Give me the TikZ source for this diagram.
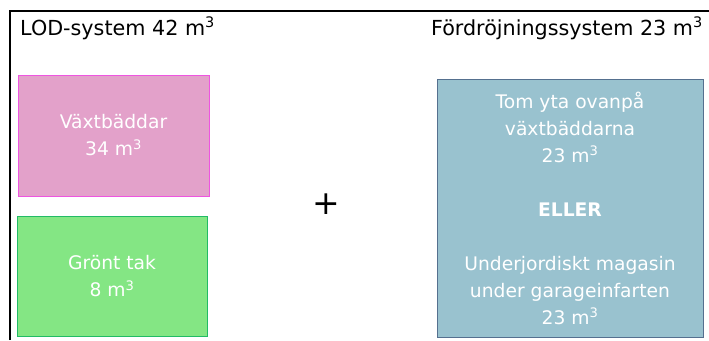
\documentclass[tikz,border=0pt]{standalone}
\usepackage{fontspec}
\setmainfont{DejaVu Sans}
\definecolor{bedfill}{HTML}{E3A1CA}
\definecolor{beddraw}{HTML}{EE55E0}
\definecolor{roofill}{HTML}{84E684}
\definecolor{roodraw}{HTML}{22BB66}
\definecolor{delfill}{HTML}{99C2CF}
\definecolor{deldraw}{HTML}{55708F}
\tikzset{
  sysbox/.style={draw, line width=1pt, align=center, text=white, inner sep=0pt,
    font=\fontsize{18.7}{27}\selectfont},
  title/.style={inner sep=0pt, font=\fontsize{20.7}{25}\selectfont}
}
\begin{document}
\begin{tikzpicture}[x=1pt, y=-1pt]
  \useasboundingbox (0,0) rectangle (709,340);
  % ram
  \draw[line width=2.5pt] (10,340) -- (10,11) -- (709,11);

  % rubriker
  \node[title, anchor=base west] (lodtitle) at (20,35) {LOD-system 42 m\textsuperscript{3}};
  \node[title, anchor=base east] (deltitle) at (703,35) {Fördröjningssystem 23 m\textsuperscript{3}};

  % LOD-delar
  \node[sysbox, fill=bedfill, draw=beddraw, minimum width=191pt, minimum height=121pt]
    (beds) at (113.5,135.5) {Växtbäddar\\34 m\textsuperscript{3}};
  \node[sysbox, fill=roofill, draw=roodraw, minimum width=190pt, minimum height=120pt]
    (roof) at (112,276) {Grönt tak\\8 m\textsuperscript{3}};

  % plus
  \node[inner sep=0pt, font=\fontsize{33}{33}\selectfont] (plus) at (326,204) {+};

  % fördröjning
  \node[sysbox, fill=delfill, draw=deldraw, minimum width=266pt, minimum height=258pt]
    (delay) at (570,208) {Tom yta ovanpå\\växtbäddarna\\23 m\textsuperscript{3}\\[27pt]
      \textbf{ELLER}\\[27pt]
      Underjordiskt magasin\\under garageinfarten\\23 m\textsuperscript{3}};
\end{tikzpicture}
\end{document}
